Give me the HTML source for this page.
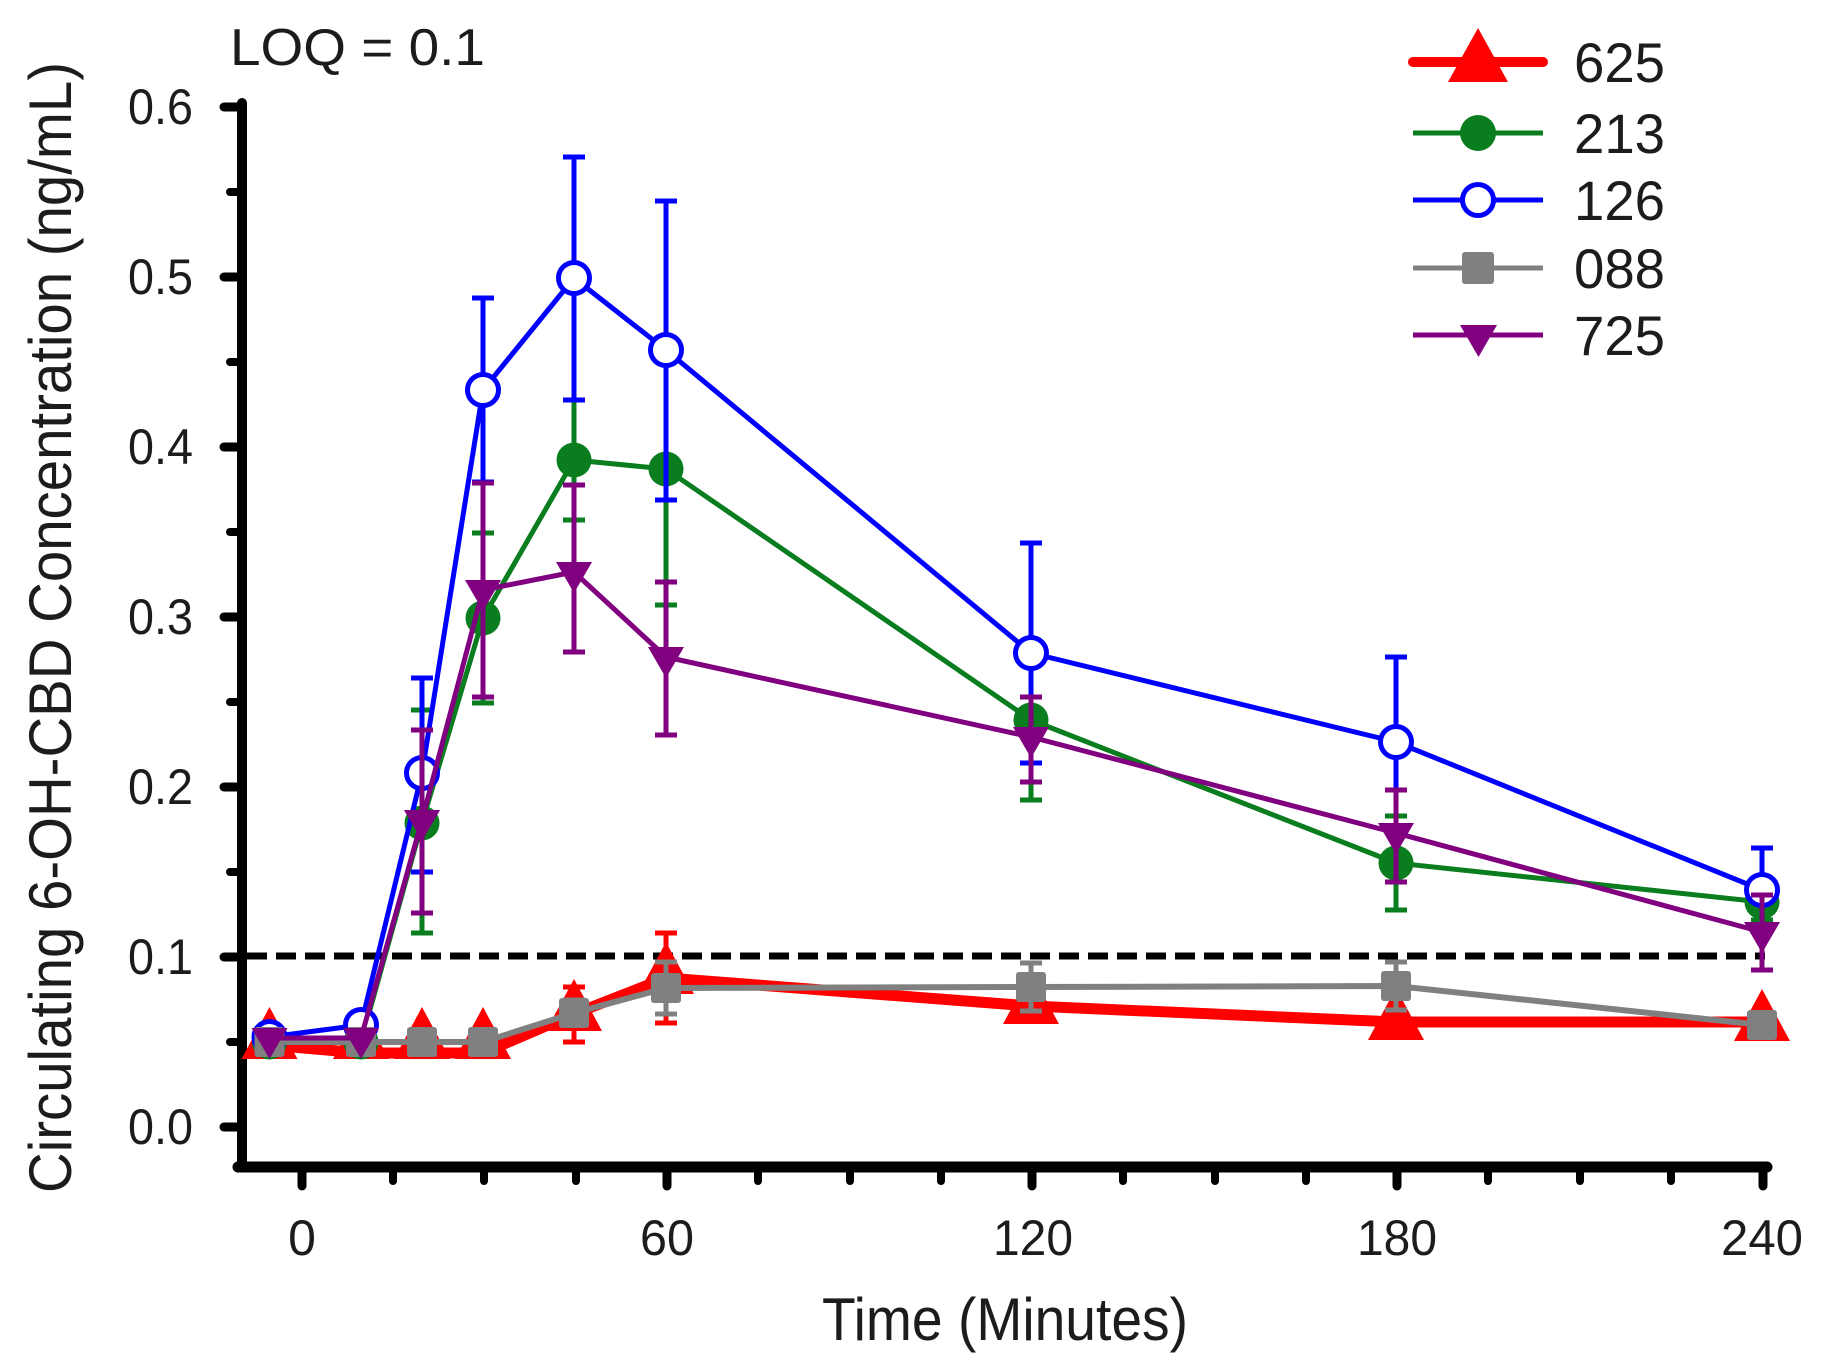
<!DOCTYPE html>
<html>
<head>
<meta charset="utf-8">
<style>
  html,body{margin:0;padding:0;background:#ffffff;}
  svg{display:block;}
  text{font-family:"Liberation Sans", Arial, sans-serif; fill:#1c1c1c;}
</style>
</head>
<body>
<svg width="1827" height="1364" viewBox="0 0 1827 1364" xmlns="http://www.w3.org/2000/svg">
  <rect x="0" y="0" width="1827" height="1364" fill="#ffffff"/>

  <!-- LOQ label -->
  <text x="230" y="65" font-size="52" textLength="255" lengthAdjust="spacingAndGlyphs">LOQ = 0.1</text>

  <!-- Y axis title -->
  <text transform="translate(71,1193) rotate(-90)" font-size="60" textLength="1131" lengthAdjust="spacingAndGlyphs">Circulating 6-OH-CBD Concentration (ng/mL)</text>

  <!-- X axis title -->
  <text x="822" y="1340" font-size="60" textLength="366" lengthAdjust="spacingAndGlyphs">Time (Minutes)</text>

  <!-- Y tick labels -->
  <g font-size="50" text-anchor="end">
    <text x="193" y="124" textLength="65" lengthAdjust="spacingAndGlyphs">0.6</text>
    <text x="193" y="294" textLength="65" lengthAdjust="spacingAndGlyphs">0.5</text>
    <text x="193" y="464" textLength="65" lengthAdjust="spacingAndGlyphs">0.4</text>
    <text x="193" y="634" textLength="65" lengthAdjust="spacingAndGlyphs">0.3</text>
    <text x="193" y="804" textLength="65" lengthAdjust="spacingAndGlyphs">0.2</text>
    <text x="193" y="974" textLength="65" lengthAdjust="spacingAndGlyphs">0.1</text>
    <text x="193" y="1144" textLength="65" lengthAdjust="spacingAndGlyphs">0.0</text>
  </g>

  <!-- X tick labels -->
  <g font-size="50" text-anchor="middle">
    <text x="302" y="1255">0</text>
    <text x="667" y="1255" textLength="54" lengthAdjust="spacingAndGlyphs">60</text>
    <text x="1033" y="1255" textLength="80" lengthAdjust="spacingAndGlyphs">120</text>
    <text x="1397" y="1255" textLength="80" lengthAdjust="spacingAndGlyphs">180</text>
    <text x="1762" y="1255" textLength="82" lengthAdjust="spacingAndGlyphs">240</text>
  </g>

  <!-- Axes -->
  <g stroke="#000" stroke-linecap="round" fill="none">
    <line x1="242" y1="103" x2="242" y2="1167" stroke-width="10"/>
    <line x1="238" y1="1167" x2="1767" y2="1167" stroke-width="11"/>
    <!-- y major ticks -->
    <g stroke-width="9">
      <line x1="224" y1="107" x2="242" y2="107"/>
      <line x1="224" y1="277" x2="242" y2="277"/>
      <line x1="224" y1="447" x2="242" y2="447"/>
      <line x1="224" y1="617" x2="242" y2="617"/>
      <line x1="224" y1="787" x2="242" y2="787"/>
      <line x1="224" y1="957" x2="242" y2="957"/>
      <line x1="224" y1="1127" x2="242" y2="1127"/>
    </g>
    <!-- y minor ticks -->
    <g stroke-width="8">
      <line x1="230" y1="192" x2="242" y2="192"/>
      <line x1="230" y1="362" x2="242" y2="362"/>
      <line x1="230" y1="532" x2="242" y2="532"/>
      <line x1="230" y1="702" x2="242" y2="702"/>
      <line x1="230" y1="872" x2="242" y2="872"/>
      <line x1="230" y1="1042" x2="242" y2="1042"/>
    </g>
    <!-- x major ticks -->
    <g stroke-width="9">
      <line x1="302" y1="1167" x2="302" y2="1186"/>
      <line x1="667" y1="1167" x2="667" y2="1186"/>
      <line x1="1032" y1="1167" x2="1032" y2="1186"/>
      <line x1="1397" y1="1167" x2="1397" y2="1186"/>
      <line x1="1763" y1="1167" x2="1763" y2="1186"/>
    </g>
    <!-- x minor ticks -->
    <g stroke-width="8">
      <line x1="393" y1="1167" x2="393" y2="1181"/>
      <line x1="484" y1="1167" x2="484" y2="1181"/>
      <line x1="576" y1="1167" x2="576" y2="1181"/>
      <line x1="758" y1="1167" x2="758" y2="1181"/>
      <line x1="850" y1="1167" x2="850" y2="1181"/>
      <line x1="941" y1="1167" x2="941" y2="1181"/>
      <line x1="1123" y1="1167" x2="1123" y2="1181"/>
      <line x1="1215" y1="1167" x2="1215" y2="1181"/>
      <line x1="1306" y1="1167" x2="1306" y2="1181"/>
      <line x1="1488" y1="1167" x2="1488" y2="1181"/>
      <line x1="1580" y1="1167" x2="1580" y2="1181"/>
      <line x1="1671" y1="1167" x2="1671" y2="1181"/>
    </g>
  </g>

  <!-- LOQ dashed line -->
  <line x1="247" y1="956" x2="1765" y2="956" stroke="#000" stroke-width="7" stroke-dasharray="20 9"/>

  <!-- ===== Series 625 (red) ===== -->
  <g stroke="#ff0000" fill="#ff0000">
    <g stroke-width="5">
      <line x1="574" y1="987" x2="574" y2="1042"/>
      <line x1="563" y1="987" x2="585" y2="987"/>
      <line x1="563" y1="1042" x2="585" y2="1042"/>
      <line x1="666" y1="933" x2="666" y2="1023"/>
      <line x1="655" y1="933" x2="677" y2="933"/>
      <line x1="655" y1="1023" x2="677" y2="1023"/>
      <line x1="1031" y1="995" x2="1031" y2="1020"/>
      <line x1="1020" y1="995" x2="1042" y2="995"/>
      <line x1="1020" y1="1020" x2="1042" y2="1020"/>
    </g>
    <polyline fill="none" stroke-width="11" stroke-linejoin="round" points="269.5,1045 361,1053 422,1053 483,1053 574,1014 666,978 1031,1006 1396,1022 1762,1022"/>
    <g stroke="none">
      <polygon points="269.5,1007 297.5,1059 241.5,1059"/>
      <polygon points="361,1007 389,1059 333,1059"/>
      <polygon points="422,1007 450,1059 394,1059"/>
      <polygon points="483,1007 511,1059 455,1059"/>
      <polygon points="574,979 602,1031 546,1031"/>
      <polygon points="666,942 694,994 638,994"/>
      <polygon points="1031,972 1059,1024 1003,1024"/>
      <polygon points="1396,988 1424,1040 1368,1040"/>
      <polygon points="1762,989 1790,1041 1734,1041"/>
    </g>
  </g>

  <!-- ===== Series 213 (green) ===== -->
  <g stroke="#0a7d1e" fill="#0a7d1e" stroke-width="5">
    <line x1="422" y1="710" x2="422" y2="933"/><line x1="411" y1="710" x2="433" y2="710"/><line x1="411" y1="933" x2="433" y2="933"/>
    <line x1="483" y1="533" x2="483" y2="703"/><line x1="472" y1="533" x2="494" y2="533"/><line x1="472" y1="703" x2="494" y2="703"/>
    <line x1="574" y1="400" x2="574" y2="520"/><line x1="563" y1="400" x2="585" y2="400"/><line x1="563" y1="520" x2="585" y2="520"/>
    <line x1="666" y1="340" x2="666" y2="605"/><line x1="655" y1="605" x2="677" y2="605"/>
    <line x1="1031" y1="660" x2="1031" y2="800"/><line x1="1020" y1="660" x2="1042" y2="660"/><line x1="1020" y1="800" x2="1042" y2="800"/>
    <line x1="1396" y1="816" x2="1396" y2="910"/><line x1="1385" y1="816" x2="1407" y2="816"/><line x1="1385" y1="910" x2="1407" y2="910"/>
    <line x1="1762" y1="885" x2="1762" y2="920"/><line x1="1751" y1="920" x2="1773" y2="920"/>
    <polyline fill="none" stroke-linejoin="round" points="269.5,1042 361,1042 422,823 483,618 574,460 666,469 1031,720 1396,863 1762,902"/>
    <g stroke="none">
      <circle cx="269.5" cy="1042" r="17.5"/>
      <circle cx="361" cy="1042" r="17.5"/>
      <circle cx="422" cy="823" r="17.5"/>
      <circle cx="483" cy="618" r="17.5"/>
      <circle cx="574" cy="460" r="17.5"/>
      <circle cx="666" cy="469" r="17.5"/>
      <circle cx="1031" cy="720" r="17.5"/>
      <circle cx="1396" cy="863" r="17.5"/>
      <circle cx="1762" cy="902" r="17.5"/>
    </g>
  </g>

  <!-- ===== Series 126 (blue) ===== -->
  <g stroke="#0000ff" stroke-width="5" fill="none">
    <line x1="422" y1="678" x2="422" y2="872"/><line x1="411" y1="678" x2="433" y2="678"/><line x1="411" y1="872" x2="433" y2="872"/>
    <line x1="483" y1="298" x2="483" y2="482"/><line x1="472" y1="298" x2="494" y2="298"/><line x1="472" y1="482" x2="494" y2="482"/>
    <line x1="574" y1="157" x2="574" y2="400"/><line x1="563" y1="157" x2="585" y2="157"/><line x1="563" y1="400" x2="585" y2="400"/>
    <line x1="666" y1="201" x2="666" y2="500"/><line x1="655" y1="201" x2="677" y2="201"/><line x1="655" y1="500" x2="677" y2="500"/>
    <line x1="1031" y1="543" x2="1031" y2="763"/><line x1="1020" y1="543" x2="1042" y2="543"/><line x1="1020" y1="763" x2="1042" y2="763"/>
    <line x1="1396" y1="657" x2="1396" y2="827"/><line x1="1385" y1="657" x2="1407" y2="657"/><line x1="1385" y1="827" x2="1407" y2="827"/>
    <line x1="1762" y1="848" x2="1762" y2="932"/><line x1="1751" y1="848" x2="1773" y2="848"/><line x1="1751" y1="932" x2="1773" y2="932"/>
    <polyline stroke-linejoin="round" points="269.5,1037 361,1025 422,773 483,390 574,278 666,350 1031,653 1396,742 1762,890"/>
    <g fill="#ffffff">
      <circle cx="269.5" cy="1037" r="15.5"/>
      <circle cx="361" cy="1025" r="15.5"/>
      <circle cx="422" cy="773" r="15.5"/>
      <circle cx="483" cy="390" r="15.5"/>
      <circle cx="574" cy="278" r="15.5"/>
      <circle cx="666" cy="350" r="15.5"/>
      <circle cx="1031" cy="653" r="15.5"/>
      <circle cx="1396" cy="742" r="15.5"/>
      <circle cx="1762" cy="890" r="15.5"/>
    </g>
  </g>

  <!-- ===== Series 088 (gray) ===== -->
  <g stroke="#808080" fill="#808080" stroke-width="5">
    <line x1="574" y1="1000" x2="574" y2="1026"/><line x1="563" y1="1000" x2="585" y2="1000"/>
    <line x1="666" y1="962" x2="666" y2="1014"/><line x1="655" y1="962" x2="677" y2="962"/><line x1="655" y1="1014" x2="677" y2="1014"/>
    <line x1="1031" y1="963" x2="1031" y2="1011"/><line x1="1020" y1="963" x2="1042" y2="963"/><line x1="1020" y1="1011" x2="1042" y2="1011"/>
    <line x1="1396" y1="962" x2="1396" y2="1010"/><line x1="1385" y1="962" x2="1407" y2="962"/><line x1="1385" y1="1010" x2="1407" y2="1010"/>
    <polyline fill="none" stroke-width="6" stroke-linejoin="round" points="269.5,1042 361,1042 422,1042 483,1042 574,1013 666,988 1031,987 1396,986 1762,1025"/>
    <g stroke="none">
      <rect x="254.5" y="1027" width="30" height="30" rx="3"/>
      <rect x="346" y="1027" width="30" height="30" rx="3"/>
      <rect x="407" y="1027" width="30" height="30" rx="3"/>
      <rect x="468" y="1027" width="30" height="30" rx="3"/>
      <rect x="559" y="998" width="30" height="30" rx="3"/>
      <rect x="651" y="973" width="30" height="30" rx="3"/>
      <rect x="1016" y="972" width="30" height="30" rx="3"/>
      <rect x="1381" y="971" width="30" height="30" rx="3"/>
      <rect x="1747" y="1010" width="30" height="30" rx="3"/>
    </g>
  </g>

  <!-- ===== Series 725 (purple) ===== -->
  <g stroke="#800080" fill="#800080" stroke-width="5">
    <line x1="422" y1="730" x2="422" y2="913"/><line x1="411" y1="730" x2="433" y2="730"/><line x1="411" y1="913" x2="433" y2="913"/>
    <line x1="483" y1="483" x2="483" y2="697"/><line x1="472" y1="483" x2="494" y2="483"/><line x1="472" y1="697" x2="494" y2="697"/>
    <line x1="574" y1="485" x2="574" y2="652"/><line x1="563" y1="485" x2="585" y2="485"/><line x1="563" y1="652" x2="585" y2="652"/>
    <line x1="666" y1="582" x2="666" y2="735"/><line x1="655" y1="582" x2="677" y2="582"/><line x1="655" y1="735" x2="677" y2="735"/>
    <line x1="1031" y1="697" x2="1031" y2="782"/><line x1="1020" y1="697" x2="1042" y2="697"/><line x1="1020" y1="782" x2="1042" y2="782"/>
    <line x1="1396" y1="790" x2="1396" y2="882"/><line x1="1385" y1="790" x2="1407" y2="790"/><line x1="1385" y1="882" x2="1407" y2="882"/>
    <line x1="1762" y1="895" x2="1762" y2="970"/><line x1="1751" y1="895" x2="1773" y2="895"/><line x1="1751" y1="970" x2="1773" y2="970"/>
    <polyline fill="none" stroke-linejoin="round" points="269.5,1038 361,1038 422,820 483,590 574,572 666,657 1031,737 1396,833 1762,932"/>
    <g stroke="none">
      <polygon points="251.5,1028 287.5,1028 269.5,1059"/>
      <polygon points="343,1028 379,1028 361,1059"/>
      <polygon points="404,810 440,810 422,841"/>
      <polygon points="465,580 501,580 483,611"/>
      <polygon points="556,562 592,562 574,593"/>
      <polygon points="648,647 684,647 666,678"/>
      <polygon points="1013,727 1049,727 1031,758"/>
      <polygon points="1378,823 1414,823 1396,854"/>
      <polygon points="1744,922 1780,922 1762,953"/>
    </g>
  </g>

  <!-- ===== Legend ===== -->
  <g>
    <line x1="1413" y1="62" x2="1543" y2="62" stroke="#ff0000" stroke-width="10" stroke-linecap="round"/>
    <polygon points="1478,28 1508,82 1448,82" fill="#ff0000"/>
    <text x="1574" y="82" font-size="56" textLength="91" lengthAdjust="spacingAndGlyphs">625</text>

    <line x1="1413" y1="133" x2="1543" y2="133" stroke="#0a7d1e" stroke-width="5"/>
    <circle cx="1478" cy="133" r="18" fill="#0a7d1e"/>
    <text x="1574" y="153" font-size="56" textLength="91" lengthAdjust="spacingAndGlyphs">213</text>

    <line x1="1413" y1="200" x2="1543" y2="200" stroke="#0000ff" stroke-width="5"/>
    <circle cx="1478" cy="200" r="15.5" fill="#ffffff" stroke="#0000ff" stroke-width="5"/>
    <text x="1574" y="220" font-size="56" textLength="91" lengthAdjust="spacingAndGlyphs">126</text>

    <line x1="1413" y1="268" x2="1543" y2="268" stroke="#808080" stroke-width="5"/>
    <rect x="1462" y="252" width="32" height="32" rx="3" fill="#808080"/>
    <text x="1574" y="288" font-size="56" textLength="91" lengthAdjust="spacingAndGlyphs">088</text>

    <line x1="1413" y1="335" x2="1543" y2="335" stroke="#800080" stroke-width="5"/>
    <polygon points="1460,325 1497,325 1478.5,357" fill="#800080"/>
    <text x="1574" y="355" font-size="56" textLength="91" lengthAdjust="spacingAndGlyphs">725</text>
  </g>
</svg>
</body>
</html>
